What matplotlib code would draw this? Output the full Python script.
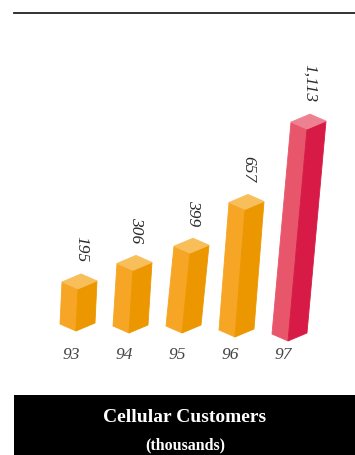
import matplotlib
matplotlib.use('Agg')
import matplotlib.pyplot as plt
from matplotlib.patches import Polygon, Rectangle
from matplotlib.lines import Line2D

# data (thousands of customers)
years = ['93', '94', '95', '96', '97']
customers = [195, 306, 399, 657, 1113]
value_labels = ['195', '306', '399', '657', '1,113']

# style (pixels) for the pseudo-3D boxes
lean = [2, 4, 8, 10, 19]          # top shifted right by perspective
drop = [3, 5, 5, 9, 13]           # baseline drop per bar
wl, wr = 16, 19                   # left / right face widths
dl, dr = 7, 8                     # rise of side corners (top & bottom)
face_orange = ('#F6A524', '#EC9600', '#F8BE5A')
face_red = ('#E8566C', '#D71B46', '#EE8191')

W, H = 355, 456
fig = plt.figure(figsize=(W / 100, H / 100), dpi=100)
ax = fig.add_axes([0, 0, 1, 1])

# x: category index, y: thousands -> mapped to pixels
x0, xs = 76, 53
y0, ys = 323, 0.185
ax.set_xlim(-x0 / xs, (W - x0) / xs)
ax.set_ylim(-(H - y0) / ys, y0 / ys)
ax.axis('off')
px, py = 1 / xs, 1 / ys

for i, v in enumerate(customers):
    left_c, right_c, top_c = face_red if i == len(customers) - 1 else face_orange
    b = -(drop[i] + 6) * py    # bottom front corner
    t = v - drop[i] * py       # top front corner
    L = lean[i] * px
    left = [(i - wl * px, b + dl * py), (i, b), (i + L, t), (i + L - wl * px, t + dl * py)]
    right = [(i, b), (i + wr * px, b + dr * py), (i + L + wr * px, t + dr * py), (i + L, t)]
    top = [(i + L, t), (i + L - wl * px, t + dl * py),
           (i + L + (wr - wl) * px, t + (dl + dr) * py), (i + L + wr * px, t + dr * py)]
    for poly, c in ((left, left_c), (right, right_c), (top, top_c)):
        ax.add_patch(Polygon(poly, closed=True, facecolor=c, edgecolor=c, lw=0.6))
    # value label, rotated
    ax.text(i + L + 3 * px, t + (dl + dr + 13) * py, value_labels[i], rotation=270,
            ha='center', va='bottom', fontsize=12.5, fontstyle='italic',
            family='Liberation Serif', color='#2a2a2a')
    # year label
    ax.text(i - 5 * px, -32 * py, years[i], ha='center', va='center',
            fontsize=12.5, fontstyle='italic', family='Liberation Serif', color='#444444')

# top rule
fig.add_artist(Line2D([14 / W, 1], [1 - 14 / H] * 2, color='#222222', lw=1.3,
                      transform=fig.transFigure))
# title box
fig.add_artist(Rectangle((14 / W, 0), 1 - 14 / W, (H - 396) / H, facecolor='black',
                         edgecolor='none', transform=fig.transFigure))
fig.text(185 / W, 1 - 418 / H, 'Cellular Customers', ha='center', va='center',
         color='white', fontsize=14, fontweight='bold', family='Liberation Serif')
fig.text(185 / W, 1 - 445 / H, '(thousands)', ha='center', va='center',
         color='white', fontsize=11.5, fontweight='bold', family='Liberation Serif')

fig.savefig('out.png', dpi=100)
